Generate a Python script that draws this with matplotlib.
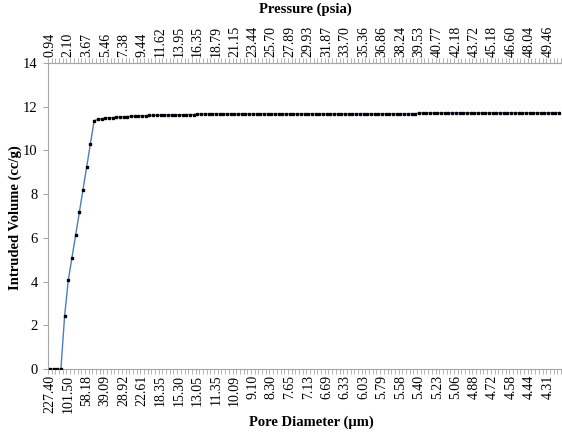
#!/usr/bin/env python3

import matplotlib
matplotlib.use("Agg")
import matplotlib.pyplot as plt
import numpy as np


# intruded volume (cc/g), one value per measured point
volume = [
	0.00, 0.00, 0.00, 0.00, 2.42, 4.07, 5.09, 6.13, 7.17, 8.20,
	9.24, 10.30, 11.36, 11.42, 11.45, 11.47, 11.49, 11.50, 11.52, 11.53,
	11.54, 11.55, 11.56, 11.57, 11.58, 11.59, 11.59, 11.60, 11.60, 11.61,
	11.61, 11.62, 11.62, 11.62, 11.63, 11.63, 11.63, 11.64, 11.64, 11.64,
	11.67, 11.67, 11.67, 11.67, 11.67, 11.67, 11.67, 11.67, 11.67, 11.67,
	11.67, 11.67, 11.67, 11.67, 11.67, 11.67, 11.67, 11.67, 11.67, 11.67,
	11.67, 11.67, 11.67, 11.67, 11.67, 11.67, 11.67, 11.67, 11.67, 11.67,
	11.67, 11.67, 11.67, 11.67, 11.67, 11.67, 11.67, 11.67, 11.67, 11.67,
	11.675, 11.675, 11.675, 11.675, 11.675, 11.675, 11.675, 11.675, 11.675, 11.675,
	11.675, 11.675, 11.675, 11.675, 11.675, 11.675, 11.675, 11.675, 11.675, 11.675,
	11.715, 11.715, 11.715, 11.715, 11.715, 11.715, 11.715, 11.715, 11.715, 11.715,
	11.715, 11.715, 11.715, 11.715, 11.715, 11.715, 11.715, 11.715, 11.715, 11.715,
	11.72, 11.72, 11.72, 11.72, 11.72, 11.72, 11.72, 11.72, 11.72, 11.72,
	11.72, 11.72, 11.72, 11.72, 11.72, 11.72, 11.72, 11.72, 11.73,
]

# labels shown every 5th point
diameter_labels = ["227.40", "101.50", "58.18", "39.09", "28.92", "22.61", "18.35",
	"15.30", "13.05", "11.35", "10.09", "9.10", "8.30", "7.65", "7.13", "6.69",
	"6.33", "6.03", "5.79", "5.58", "5.40", "5.23", "5.06", "4.88", "4.72",
	"4.58", "4.44", "4.31"]
pressure_labels = ["0.94", "2.10", "3.67", "5.46", "7.38", "9.44", "11.62",
	"13.95", "16.35", "18.79", "21.15", "23.44", "25.70", "27.89", "29.93",
	"31.87", "33.70", "35.36", "36.86", "38.24", "39.53", "40.77", "42.18",
	"43.72", "45.18", "46.60", "48.04", "49.46"]
label_step = 5


def main():
	plt.rcParams['font.family'] = ['Liberation Serif', 'DejaVu Serif']
	W, H = 562, 434
	fig = plt.figure(figsize=(W / 100, H / 100), dpi=100)
	ax = fig.add_axes([48 / W, 1 - 369 / H, 513 / W, 306 / H])

	n = len(volume)
	x = np.arange(n)
	ax.plot(x, volume, color='#4A7EBB', lw=1.0, marker='s', ms=1.8,
		mfc='black', mec='black', zorder=3)

	ax.set_xlim(-0.5, n - 0.5)
	ax.set_ylim(0, 14)
	ax.set_yticks(np.arange(0, 15, 2))

	ax.spines['right'].set_visible(False)
	for s in ['left', 'bottom', 'top']:
		ax.spines[s].set_color('#A6A6A6')
		ax.spines[s].set_linewidth(0.8)

	pos = x[::label_step][:len(diameter_labels)]
	ax.set_xticks(pos)
	ax.set_xticklabels(diameter_labels, rotation=90, fontsize=10)
	ax.set_xticks(np.arange(-0.5, n, 1), minor=True)
	ax.tick_params(axis='x', which='major', length=0, pad=4)
	ax.tick_params(axis='x', which='minor', length=3.5, color='#A6A6A6', width=0.6)
	ax.tick_params(axis='y', length=3.5, color='#A6A6A6', width=0.8, labelsize=10.5, pad=4)

	top = ax.twiny()
	top.set_xlim(ax.get_xlim())
	for s in ['right', 'left', 'bottom']:
		top.spines[s].set_visible(False)
	top.spines['top'].set_color('#A6A6A6')
	top.spines['top'].set_linewidth(0.8)
	top.set_xticks(pos)
	top.set_xticklabels(pressure_labels, rotation=90, fontsize=10)
	top.set_xticks(np.arange(-0.5, n, 1), minor=True)
	top.tick_params(axis='x', which='major', length=0, pad=4)
	top.tick_params(axis='x', which='minor', length=3.5, color='#A6A6A6', width=0.6)

	fig.text(311 / W, 1 - 422 / H, "Pore Diameter (µm)", fontsize=10.5,
		fontweight='bold', ha='center', va='center')
	fig.text(305 / W, 1 - 9 / H, "Pressure (psia)", fontsize=10.5,
		fontweight='bold', ha='center', va='center')
	fig.text(15 / W, 1 - 218 / H, "Intruded Volume (cc/g)", fontsize=10.5,
		fontweight='bold', ha='center', va='center', rotation=90)

	fig.savefig("out.png", dpi=100)


if __name__ == '__main__':
	main()
